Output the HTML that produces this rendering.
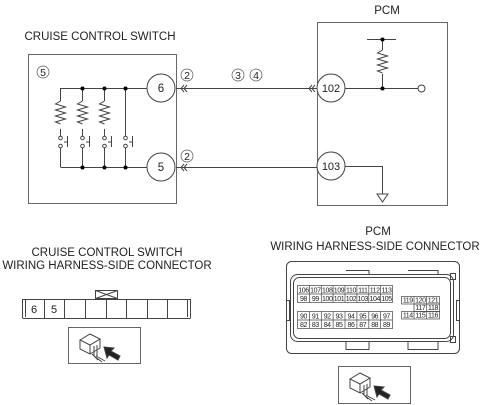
<!DOCTYPE html>
<html><head><meta charset="utf-8"><style>
html,body{margin:0;padding:0;background:#fff;}
svg{display:block;font-family:"Liberation Sans",sans-serif;}
</style></head><body>
<svg width="480" height="405" viewBox="0 0 480 405" xmlns="http://www.w3.org/2000/svg">
<g fill="none" stroke="#444" stroke-width="1">
<rect x="28.5" y="54.5" width="148" height="149" stroke="#666"/>
<circle cx="161" cy="88" r="14"/>
<circle cx="161" cy="167" r="14"/>
<path d="M60.5 88.5H147 M60.5 167.5H147"/>
<path d="M60.5 88V101 M60.5 129V136 M60.5 148V167"/>
<path d="M82.5 88V101 M82.5 129V136 M82.5 148V167"/>
<path d="M104.5 88V101 M104.5 129V136 M104.5 148V167"/>
<path d="M125.5 88V136 M125.5 148V167"/>
<path d="M60.5 101l-5 3 10 3-10 3 10 3-10 3 10 3-10 3 5 2"/>
<path d="M82.5 101l-5 3 10 3-10 3 10 3-10 3 10 3-10 3 5 2"/>
<path d="M104.5 101l-5 3 10 3-10 3 10 3-10 3 10 3-10 3 5 2"/>
<g fill="#fff"><circle cx="60.5" cy="138" r="1.8"/><circle cx="60.5" cy="146" r="1.8"/>
<circle cx="82.5" cy="138" r="1.8"/><circle cx="82.5" cy="146" r="1.8"/>
<circle cx="104.5" cy="138" r="1.8"/><circle cx="104.5" cy="146" r="1.8"/>
<circle cx="125.5" cy="138" r="1.8"/><circle cx="125.5" cy="146" r="1.8"/></g>
<path d="M67.5 136V147 M64 142H67.5 M89.5 136V147 M86 142H89.5 M111.5 136V147 M108 142H111.5 M132.5 136V147 M129 142H132.5"/>
<path d="M176 88.5H317 M176 167.5H317"/>
<path d="M184 85l-3 3.5 3 3.5 M187 85l-3 3.5 3 3.5 M184 164l-3 3.5 3 3.5 M187 164l-3 3.5 3 3.5"/>
<path d="M312 85l-3 3.5 3 3.5 M315 85l-3 3.5 3 3.5"/>
<rect x="317.5" y="22.5" width="130" height="183" stroke="#666"/>
<circle cx="331" cy="88" r="14" fill="#fff"/>
<circle cx="331" cy="166" r="14" fill="#fff"/>
<path d="M367 39.5H396 M382.5 39V50 M382.5 74V88 M345 88.5H418"/>
<path d="M382.5 50l-5 3 10 3-10 3 10 3-10 3 10 3-10 3 5 2"/>
<circle cx="421.5" cy="88.5" r="3.5" fill="#fff"/>
<path d="M345 166.5H382.5V194"/>
<path d="M377 194H388L382.5 202Z"/>
<path d="M22.5 318V299.5H190.5V318 M22.5 318.5H190.5 M25.5 300V317 M187.5 300V317"/>
<path d="M44.5 300V318 M64.5 300V318 M85.5 300V318 M106.5 300V318 M126.5 300V318 M147.5 300V318 M167.5 300V318"/>
<rect x="95.5" y="290.5" width="22" height="8"/>
<path d="M95.5 290.5L117.5 298.5 M117.5 290.5L95.5 298.5"/>
<rect x="68.5" y="327.5" width="72" height="36" stroke="#666"/>
<g transform="translate(80,332)">
<path d="M0 8L10 2 20 7 10 13Z M0 8V17L10 22V13 M20 7V16L10 22 M14 14V24 M17 13V24 M12 22L18 28 M14 24L22 30 M16 24L25 29"/>
<path d="M24 15L34 16 31 19 40 24 38 28 29 23 27 26Z" fill="#222"/>
</g>
<rect x="286.5" y="261.5" width="173" height="92" rx="5"/>
<rect x="290.5" y="274.5" width="163" height="67" rx="7"/>
<rect x="293.5" y="277.5" width="157" height="61" rx="6"/>
<path d="M346 270.5H369V274 M408 270.5H438V274 M346 341V349.5H369V341 M408 341V349.5H438V341"/>
<rect x="450.5" y="273.5" width="5" height="6"/>
<rect x="450.5" y="336.5" width="5" height="6"/>
<rect x="286.5" y="300.5" width="3" height="20"/>
<rect x="456.5" y="300.5" width="3" height="20"/>
<rect x="338.5" y="366.5" width="72" height="37" stroke="#666"/>
<g transform="translate(350,371)">
<path d="M0 8L10 2 20 7 10 13Z M0 8V17L10 22V13 M20 7V16L10 22 M14 14V24 M17 13V24 M12 22L18 28 M14 24L22 30 M16 24L25 29"/>
<path d="M24 15L34 16 31 19 40 24 38 28 29 23 27 26Z" fill="#222"/>
</g>
</g>
<g fill="#000">
<circle cx="82.5" cy="88.5" r="2"/><circle cx="104.5" cy="88.5" r="2"/><circle cx="125.5" cy="88.5" r="2"/>
<circle cx="82.5" cy="167.5" r="2"/><circle cx="104.5" cy="167.5" r="2"/><circle cx="125.5" cy="167.5" r="2"/>
<circle cx="382.5" cy="39.5" r="2"/><circle cx="382.5" cy="88.5" r="2"/>
</g>
<g font-size="11.5" fill="#222" text-anchor="middle">
<text x="100" y="40">CRUISE CONTROL SWITCH</text>
<text x="387" y="14">PCM</text>
<text x="161" y="92">6</text><text x="161" y="171">5</text>
<text x="331" y="92" font-size="11">102</text><text x="331" y="170" font-size="11">103</text>
<text x="107" y="256">CRUISE CONTROL SWITCH</text>
<text x="107" y="269">WIRING HARNESS-SIDE CONNECTOR</text>
<text x="378" y="235">PCM</text>
<text x="375" y="250">WIRING HARNESS-SIDE CONNECTOR</text>
<text x="34" y="313" font-size="11">6</text><text x="54" y="313" font-size="11">5</text>
</g>
<g fill="#222" text-anchor="middle">
<circle cx="43" cy="72" r="6" fill="none" stroke="#555" stroke-width="0.7"/><text x="43" y="76" font-size="10.5">5</text>
<circle cx="187" cy="75" r="6" fill="none" stroke="#555" stroke-width="0.7"/><text x="187" y="79" font-size="10.5">2</text>
<circle cx="187" cy="156" r="6" fill="none" stroke="#555" stroke-width="0.7"/><text x="187" y="160" font-size="10.5">2</text>
<circle cx="238" cy="75" r="6" fill="none" stroke="#555" stroke-width="0.7"/><text x="238" y="79" font-size="10.5">3</text>
<circle cx="256" cy="75" r="6" fill="none" stroke="#555" stroke-width="0.7"/><text x="256" y="79" font-size="10.5">4</text>
</g>
<g fill="none" stroke="#444" stroke-width="0.7">
<rect x="297.5" y="285.5" width="95" height="17"/><path d="M297.5 294H392.5"/>
<rect x="297.5" y="311.5" width="95" height="17"/><path d="M297.5 320H392.5"/>
<path d="M309.4 285.5V302.5 M321.3 285.5V302.5 M333.1 285.5V302.5 M345 285.5V302.5 M356.9 285.5V302.5 M368.8 285.5V302.5 M380.6 285.5V302.5"/>
<path d="M309.4 311.5V328.5 M321.3 311.5V328.5 M333.1 311.5V328.5 M345 311.5V328.5 M356.9 311.5V328.5 M368.8 311.5V328.5 M380.6 311.5V328.5"/>
<rect x="401.5" y="296.5" width="38" height="7.5"/><path d="M414 296.5V304 M426.7 296.5V304"/>
<rect x="414" y="304" width="25.5" height="7.5"/><path d="M426.7 304V311.5"/>
<rect x="401.5" y="311.5" width="38" height="7.5"/><path d="M414 311.5V319 M426.7 311.5V319"/>
</g>
<g font-size="7" fill="#222" text-anchor="middle" letter-spacing="-0.4">
<text x="303.5" y="292.5">106</text><text x="315.4" y="292.5">107</text><text x="327.2" y="292.5">108</text><text x="339" y="292.5">109</text><text x="351" y="292.5">110</text><text x="362.8" y="292.5">111</text><text x="374.7" y="292.5">112</text><text x="386.5" y="292.5">113</text>
<text x="303.5" y="301">98</text><text x="315.4" y="301">99</text><text x="327.2" y="301">100</text><text x="339" y="301">101</text><text x="351" y="301">102</text><text x="362.8" y="301">103</text><text x="374.7" y="301">104</text><text x="386.5" y="301">105</text>
<text x="303.5" y="318.5">90</text><text x="315.4" y="318.5">91</text><text x="327.2" y="318.5">92</text><text x="339" y="318.5">93</text><text x="351" y="318.5">94</text><text x="362.8" y="318.5">95</text><text x="374.7" y="318.5">96</text><text x="386.5" y="318.5">97</text>
<text x="303.5" y="327">82</text><text x="315.4" y="327">83</text><text x="327.2" y="327">84</text><text x="339" y="327">85</text><text x="351" y="327">86</text><text x="362.8" y="327">87</text><text x="374.7" y="327">88</text><text x="386.5" y="327">89</text>
<text x="407.8" y="302.5">119</text><text x="420.4" y="302.5">120</text><text x="433" y="302.5">121</text>
<text x="420.4" y="310">117</text><text x="433" y="310">118</text>
<text x="407.8" y="317.5">114</text><text x="420.4" y="317.5">115</text><text x="433" y="317.5">116</text>
</g>
</svg>
</body></html>
